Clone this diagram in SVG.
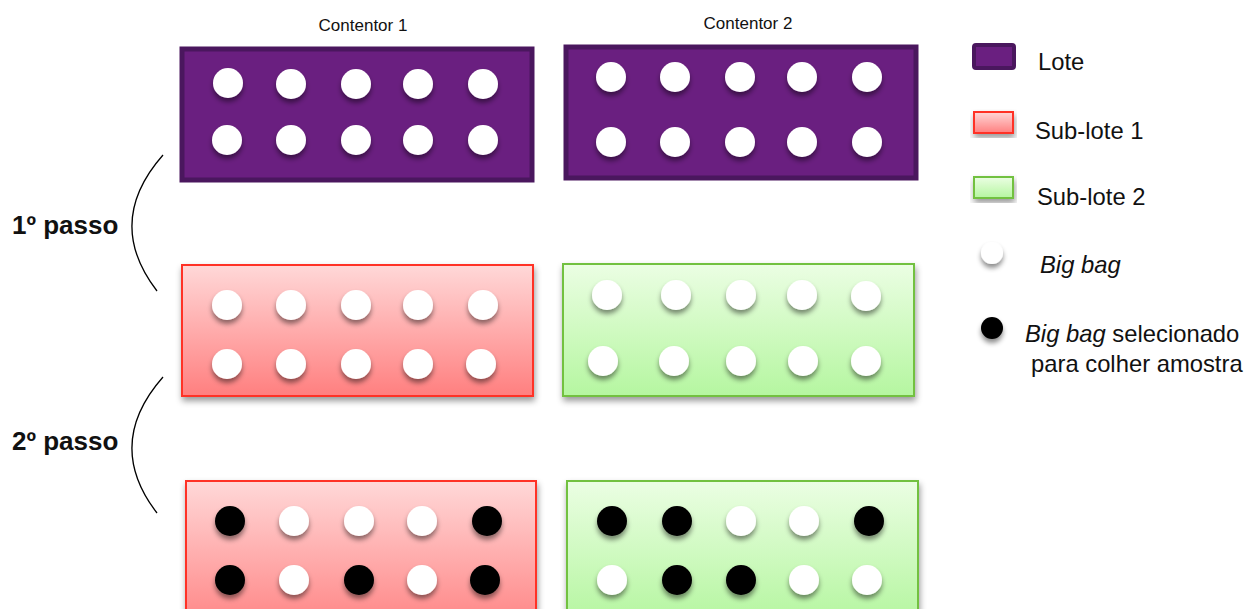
<svg xmlns="http://www.w3.org/2000/svg" width="1245" height="609" viewBox="0 0 1245 609">
<defs>
<linearGradient id="gRed" x1="0" y1="0" x2="0" y2="1">
<stop offset="0" stop-color="#ffd8d8"/><stop offset="1" stop-color="#ff7f7f"/>
</linearGradient>
<linearGradient id="gRedB" x1="0" y1="0" x2="0" y2="1">
<stop offset="0" stop-color="#ffd8d8"/><stop offset="1" stop-color="#ff8888"/>
</linearGradient>
<linearGradient id="gGreen" x1="0" y1="0" x2="0" y2="1">
<stop offset="0" stop-color="#ebfee3"/><stop offset="1" stop-color="#b5f6a0"/>
</linearGradient>
<filter id="sh" x="-30%" y="-30%" width="160%" height="180%">
<feDropShadow dx="0" dy="4" stdDeviation="2.5" flood-color="#000" flood-opacity="0.45"/>
</filter>
<filter id="shBox" x="-10%" y="-10%" width="120%" height="130%">
<feDropShadow dx="1" dy="4" stdDeviation="3" flood-color="#000" flood-opacity="0.4"/>
</filter>
</defs>
<style>
.lot{fill:#6a1f80;stroke:#4a175e;stroke-width:5}
.s1{fill:url(#gRed);stroke:#ff3026;stroke-width:2}
.s1b{fill:url(#gRedB);stroke:#ff3026;stroke-width:2}
.s2{fill:url(#gGreen);stroke:#72c13f;stroke-width:2}
.w{fill:#ffffff}
.k{fill:#000000}
.dots circle{filter:url(#sh)}
.t{font-family:"Liberation Sans",Arial,sans-serif;fill:#111}
.cap{font-size:17px}
.leg{font-size:23.8px}
.step{font-size:26px;font-weight:bold}
.arc{fill:none;stroke:#000;stroke-width:1.3}
</style>

<g id="contentor1-label"><text class="t cap" x="363" y="31" text-anchor="middle">Contentor 1</text></g>
<g id="contentor2-label"><text class="t cap" x="748" y="29" text-anchor="middle">Contentor 2</text></g>

<g id="lote1">
<rect class="lot" x="182" y="49" width="350" height="131"/>
<g class="dots">
<circle class="w" cx="228" cy="83" r="15"/><circle class="w" cx="291" cy="84" r="15"/><circle class="w" cx="356" cy="84" r="15"/><circle class="w" cx="418" cy="84" r="15"/><circle class="w" cx="483" cy="84" r="15"/>
<circle class="w" cx="227" cy="140" r="15"/><circle class="w" cx="291" cy="140" r="15"/><circle class="w" cx="356" cy="140" r="15"/><circle class="w" cx="418" cy="140" r="15"/><circle class="w" cx="483" cy="140" r="15"/>
</g>
</g>

<g id="lote2">
<rect class="lot" x="566" y="47" width="350" height="131"/>
<g class="dots">
<circle class="w" cx="611" cy="77" r="15"/><circle class="w" cx="675" cy="77" r="15"/><circle class="w" cx="740" cy="77" r="15"/><circle class="w" cx="802" cy="77" r="15"/><circle class="w" cx="867" cy="77" r="15"/>
<circle class="w" cx="611" cy="142" r="15"/><circle class="w" cx="675" cy="142" r="15"/><circle class="w" cx="740" cy="142" r="15"/><circle class="w" cx="802" cy="142" r="15"/><circle class="w" cx="867" cy="142" r="15"/>
</g>
</g>

<g id="sublote1-a">
<rect class="s1" x="182" y="265" width="351" height="131" filter="url(#shBox)"/>
<g class="dots">
<circle class="w" cx="227" cy="305" r="15"/><circle class="w" cx="291" cy="305" r="15"/><circle class="w" cx="356" cy="305" r="15"/><circle class="w" cx="418" cy="305" r="15"/><circle class="w" cx="483" cy="305" r="15"/>
<circle class="w" cx="227" cy="364" r="15"/><circle class="w" cx="291" cy="364" r="15"/><circle class="w" cx="356" cy="364" r="15"/><circle class="w" cx="418" cy="364" r="15"/><circle class="w" cx="481" cy="364" r="15"/>
</g>
</g>

<g id="sublote2-a">
<rect class="s2" x="563" y="264" width="351" height="132" filter="url(#shBox)"/>
<g class="dots">
<circle class="w" cx="607" cy="295" r="15"/><circle class="w" cx="676" cy="295" r="15"/><circle class="w" cx="741" cy="295" r="15"/><circle class="w" cx="802" cy="295" r="15"/><circle class="w" cx="866" cy="296" r="15"/>
<circle class="w" cx="603" cy="361" r="15"/><circle class="w" cx="674" cy="361" r="15"/><circle class="w" cx="741" cy="361" r="15"/><circle class="w" cx="803" cy="361" r="15"/><circle class="w" cx="866" cy="361" r="15"/>
</g>
</g>

<g id="sublote1-b">
<rect class="s1b" x="186" y="481" width="350" height="140" filter="url(#shBox)"/>
<g class="dots">
<circle class="k" cx="230" cy="521" r="15"/><circle class="w" cx="294" cy="521" r="15"/><circle class="w" cx="359" cy="521" r="15"/><circle class="w" cx="422" cy="521" r="15"/><circle class="k" cx="487" cy="521" r="15"/>
<circle class="k" cx="230" cy="580" r="15"/><circle class="w" cx="294" cy="580" r="15"/><circle class="k" cx="359" cy="580" r="15"/><circle class="w" cx="422" cy="580" r="15"/><circle class="k" cx="485" cy="580" r="15"/>
</g>
</g>

<g id="sublote2-b">
<rect class="s2" x="567" y="481" width="351" height="140" filter="url(#shBox)"/>
<g class="dots">
<circle class="k" cx="612" cy="521" r="15"/><circle class="k" cx="677" cy="521" r="15"/><circle class="w" cx="741" cy="521" r="15"/><circle class="w" cx="804" cy="521" r="15"/><circle class="k" cx="869" cy="521" r="15"/>
<circle class="w" cx="612" cy="580" r="15"/><circle class="k" cx="677" cy="580" r="15"/><circle class="k" cx="741" cy="580" r="15"/><circle class="w" cx="804" cy="580" r="15"/><circle class="w" cx="867" cy="580" r="15"/>
</g>
</g>

<g id="connectors">
<path class="arc" d="M163,155 Q104,222 157,291"/>
<path class="arc" d="M163,377 Q104,444 157,513"/>
</g>

<g id="step1"><text class="t step" x="12" y="234">1º passo</text></g>
<g id="step2"><text class="t step" x="12" y="450">2º passo</text></g>

<g id="legend">
<g id="leg-lote"><rect class="lot" x="974" y="45" width="40" height="23" rx="2" style="stroke-width:4"/><text class="t leg" x="1038" y="70">Lote</text></g>
<g id="leg-sub1"><rect class="s1" x="974" y="112" width="39" height="21" filter="url(#shBox)"/><text class="t leg" x="1035" y="139">Sub-lote 1</text></g>
<g id="leg-sub2"><rect class="s2" x="974" y="177" width="39" height="21" filter="url(#shBox)"/><text class="t leg" x="1037" y="205">Sub-lote 2</text></g>
<g id="leg-bag" class="dots"><circle class="w" cx="992" cy="253" r="11"/><text class="t leg" x="1040" y="273" font-style="italic">Big bag</text></g>
<g id="leg-sel" class="dots"><circle class="k" cx="992" cy="328" r="11"/>
<text class="t leg" x="1025" y="342"><tspan font-style="italic">Big bag</tspan> selecionado</text>
<text class="t leg" x="1031" y="372">para colher amostra</text></g>
</g>
</svg>
